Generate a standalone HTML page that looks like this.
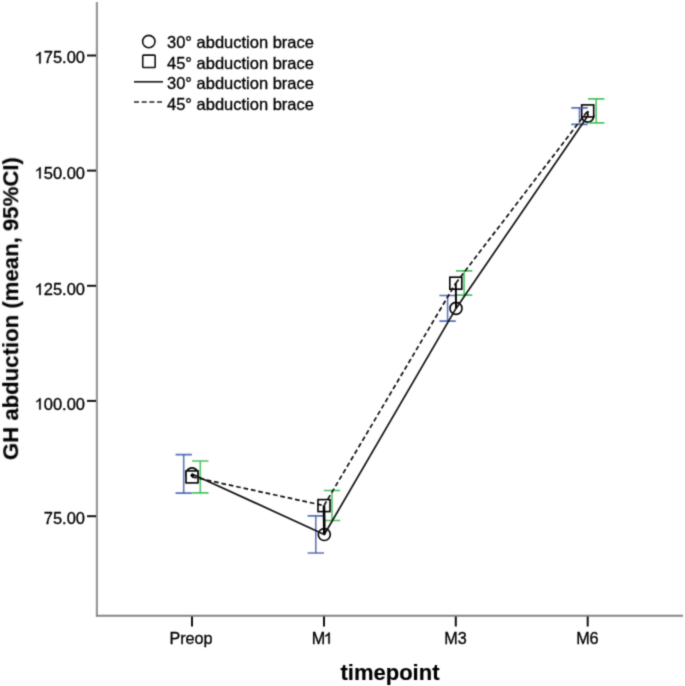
<!DOCTYPE html>
<html>
<head>
<meta charset="utf-8">
<style>
html,body{margin:0;padding:0;background:#fff;}
body{width:685px;height:686px;overflow:hidden;}
svg{display:block;}
text{font-family:"Liberation Sans",sans-serif;fill:#000;stroke:#000;stroke-width:0.3px;}
.h{fill:none;stroke:none;}
.g1{fill:#000;stroke:#000;stroke-width:0.3px;}
.b{stroke-width:0.15px;}
</style>
</head>
<body>
<svg width="685" height="686" viewBox="0 0 685 686">
<defs><filter id="bl" x="0" y="0" width="685" height="686" filterUnits="userSpaceOnUse" color-interpolation-filters="sRGB"><feConvolveMatrix order="3" kernelMatrix="0.0256 0.1088 0.0256 0.1088 0.4624 0.1088 0.0256 0.1088 0.0256" edgeMode="duplicate" preserveAlpha="true"/></filter></defs>
<g filter="url(#bl)">
<rect x="0" y="0" width="685" height="686" fill="#fff"/>
<!-- axes -->
<line x1="96.9" y1="2" x2="96.9" y2="616.8" stroke="#989898" stroke-width="2.2"/>
<line x1="96" y1="615.8" x2="683" y2="615.8" stroke="#868686" stroke-width="2"/>
<!-- y ticks -->
<g stroke="#111" stroke-width="2">
<line x1="87" y1="55.5" x2="96" y2="55.5"/>
<line x1="87" y1="170.6" x2="96" y2="170.6"/>
<line x1="87" y1="285.8" x2="96" y2="285.8"/>
<line x1="87" y1="400.9" x2="96" y2="400.9"/>
<line x1="87" y1="516.2" x2="96" y2="516.2"/>
</g>
<g font-size="16.5" text-anchor="end">
<text x="85" y="63.4"><tspan class="h">1</tspan>75.00</text><path class="g1" d="M40.70,63.40L39.25,63.40L39.25,54.52Q38.72,55.00 37.88,55.48Q37.04,55.96 36.35,56.21L36.35,54.86Q37.52,54.34 38.39,53.58Q39.27,52.83 39.63,52.05L40.70,52.05Z"/>
<text x="85" y="178.5"><tspan class="h">1</tspan>50.00</text><path class="g1" d="M40.70,178.50L39.25,178.50L39.25,169.62Q38.72,170.10 37.88,170.58Q37.04,171.06 36.35,171.31L36.35,169.96Q37.52,169.44 38.39,168.68Q39.27,167.93 39.63,167.15L40.70,167.15Z"/>
<text x="85" y="294.9"><tspan class="h">1</tspan>25.00</text><path class="g1" d="M40.70,294.90L39.25,294.90L39.25,286.02Q38.72,286.50 37.88,286.98Q37.04,287.46 36.35,287.71L36.35,286.36Q37.52,285.84 38.39,285.08Q39.27,284.33 39.63,283.55L40.70,283.55Z"/>
<text x="85" y="409.5"><tspan class="h">1</tspan>00.00</text><path class="g1" d="M40.70,409.50L39.25,409.50L39.25,400.62Q38.72,401.10 37.88,401.58Q37.04,402.06 36.35,402.31L36.35,400.96Q37.52,400.44 38.39,399.68Q39.27,398.93 39.63,398.15L40.70,398.15Z"/>
<text x="85" y="524.2">75.00</text>
</g>
<!-- x ticks -->
<g stroke="#111" stroke-width="2">
<line x1="192" y1="616.5" x2="192" y2="626.5"/>
<line x1="324" y1="616.5" x2="324" y2="626.5"/>
<line x1="455.8" y1="616.5" x2="455.8" y2="626.5"/>
<line x1="587.7" y1="616.5" x2="587.7" y2="626.5"/>
</g>
<g font-size="16.2" text-anchor="middle">
<text x="191" y="643.7">Preop</text>
<text x="311.8" y="643.7" text-anchor="start">M</text><path class="g1" d="M329.74,643.70L328.31,643.70L328.31,634.98Q327.80,635.45 326.97,635.93Q326.14,636.40 325.46,636.64L325.46,635.31Q326.61,634.80 327.47,634.06Q328.33,633.32 328.69,632.55L329.74,632.55Z"/>
<text x="455.5" y="643.7">M3</text>
<text x="587.4" y="643.7">M6</text>
</g>
<!-- axis titles -->
<text class="b" transform="translate(390,679.6)" font-size="22" font-weight="bold" text-anchor="middle">timepoint</text>
<text class="b" transform="translate(17.8,308.6) rotate(-90) scale(1.008,1.03)" font-size="22" font-weight="bold" text-anchor="middle">GH abduction (mean, 95%CI)</text>
<!-- legend -->
<circle cx="148.8" cy="41.55" r="6.2" fill="none" stroke="#111" stroke-width="1.6"/>
<rect x="142.75" y="55.15" width="12.4" height="12.4" rx="0.8" fill="none" stroke="#111" stroke-width="1.6"/>
<line x1="134" y1="81.8" x2="163" y2="81.8" stroke="#222" stroke-width="1.7"/>
<line x1="134" y1="102" x2="162" y2="102" stroke="#222" stroke-width="1.7" stroke-dasharray="5 2.7"/>
<g font-size="16.5">
<text x="167" y="48.2">30° abduction brace</text>
<text x="167" y="68.8">45° abduction brace</text>
<text x="167" y="89.2">30° abduction brace</text>
<text x="167" y="109.5">45° abduction brace</text>
</g>
<!-- markers -->
<g fill="#fff" stroke="#000" stroke-width="1.6">
<circle cx="192" cy="473.9" r="6"/>
<rect x="186.00" y="470.90" width="12" height="12"/>
<circle cx="324.3" cy="534.5" r="6"/>
<rect x="318.00" y="499.60" width="12" height="12"/>
<circle cx="456" cy="308.4" r="6"/>
<rect x="449.80" y="277.20" width="12" height="12"/>
<circle cx="587.7" cy="116.1" r="6"/>
<rect x="581.70" y="104.90" width="12" height="12"/>
</g>
<g fill="none">
<path d="M183.7 454.6V493.2" stroke="#3e58ac" stroke-width="1.6" stroke-opacity="0.82"/><path d="M175.5 454.6H191.89999999999998M175.5 493.2H191.89999999999998" stroke="#3e58ac" stroke-width="1.7" stroke-opacity="0.85"/>
<path d="M315.8 515.9V553" stroke="#3e58ac" stroke-width="1.6" stroke-opacity="0.82"/><path d="M307.6 515.9H324.0M307.6 553H324.0" stroke="#3e58ac" stroke-width="1.7" stroke-opacity="0.85"/>
<path d="M447.6 295.5V321.2" stroke="#3e58ac" stroke-width="1.6" stroke-opacity="0.82"/><path d="M439.40000000000003 295.5H455.8M439.40000000000003 321.2H455.8" stroke="#3e58ac" stroke-width="1.7" stroke-opacity="0.85"/>
<path d="M579.5 107.9V124.3" stroke="#3e58ac" stroke-width="1.6" stroke-opacity="0.82"/><path d="M571.3 107.9H587.7M571.3 124.3H587.7" stroke="#3e58ac" stroke-width="1.7" stroke-opacity="0.85"/>
<path d="M200.3 461V492.8" stroke="#2eb848" stroke-width="1.6" stroke-opacity="0.82"/><path d="M192.10000000000002 461H208.5M192.10000000000002 492.8H208.5" stroke="#2eb848" stroke-width="1.7" stroke-opacity="0.85"/>
<path d="M332 490.5V520.5" stroke="#2eb848" stroke-width="1.6" stroke-opacity="0.82"/><path d="M323.8 490.5H340.2M323.8 520.5H340.2" stroke="#2eb848" stroke-width="1.7" stroke-opacity="0.85"/>
<path d="M464.1 270.9V295.2" stroke="#2eb848" stroke-width="1.6" stroke-opacity="0.82"/><path d="M455.90000000000003 270.9H472.3M455.90000000000003 295.2H472.3" stroke="#2eb848" stroke-width="1.7" stroke-opacity="0.85"/>
<path d="M596.2 98.9V122.9" stroke="#2eb848" stroke-width="1.6" stroke-opacity="0.82"/><path d="M588.0 98.9H604.4000000000001M588.0 122.9H604.4000000000001" stroke="#2eb848" stroke-width="1.7" stroke-opacity="0.85"/>
</g>
<polyline points="192,473.9 324.3,534.5 456,308.4 587.7,116.1" fill="none" stroke="#111" stroke-width="1.7" stroke-linejoin="round"/>
<g fill="none" stroke="#111" stroke-width="1.7" stroke-dasharray="4.7 2.83">
<line x1="192" y1="476.9" x2="324" y2="505.6"/>
<line x1="324" y1="505.6" x2="455.8" y2="283.2"/>
<line x1="455.8" y1="283.2" x2="587.7" y2="110.9"/>
</g>
<g stroke="#000">
<line x1="324" y1="505.6" x2="324.3" y2="534.5" stroke-width="2.6"/>
<line x1="455.8" y1="283.2" x2="456" y2="308.4" stroke-width="1.9"/>
<line x1="587.7" y1="110.9" x2="587.7" y2="116.1" stroke-width="1.9"/>
<line x1="192" y1="476.9" x2="192" y2="473.9" stroke-width="1.9"/>
<circle cx="192.2" cy="475.3" r="1.3" fill="#000"/>
</g>
</g>
</svg>
</body>
</html>
